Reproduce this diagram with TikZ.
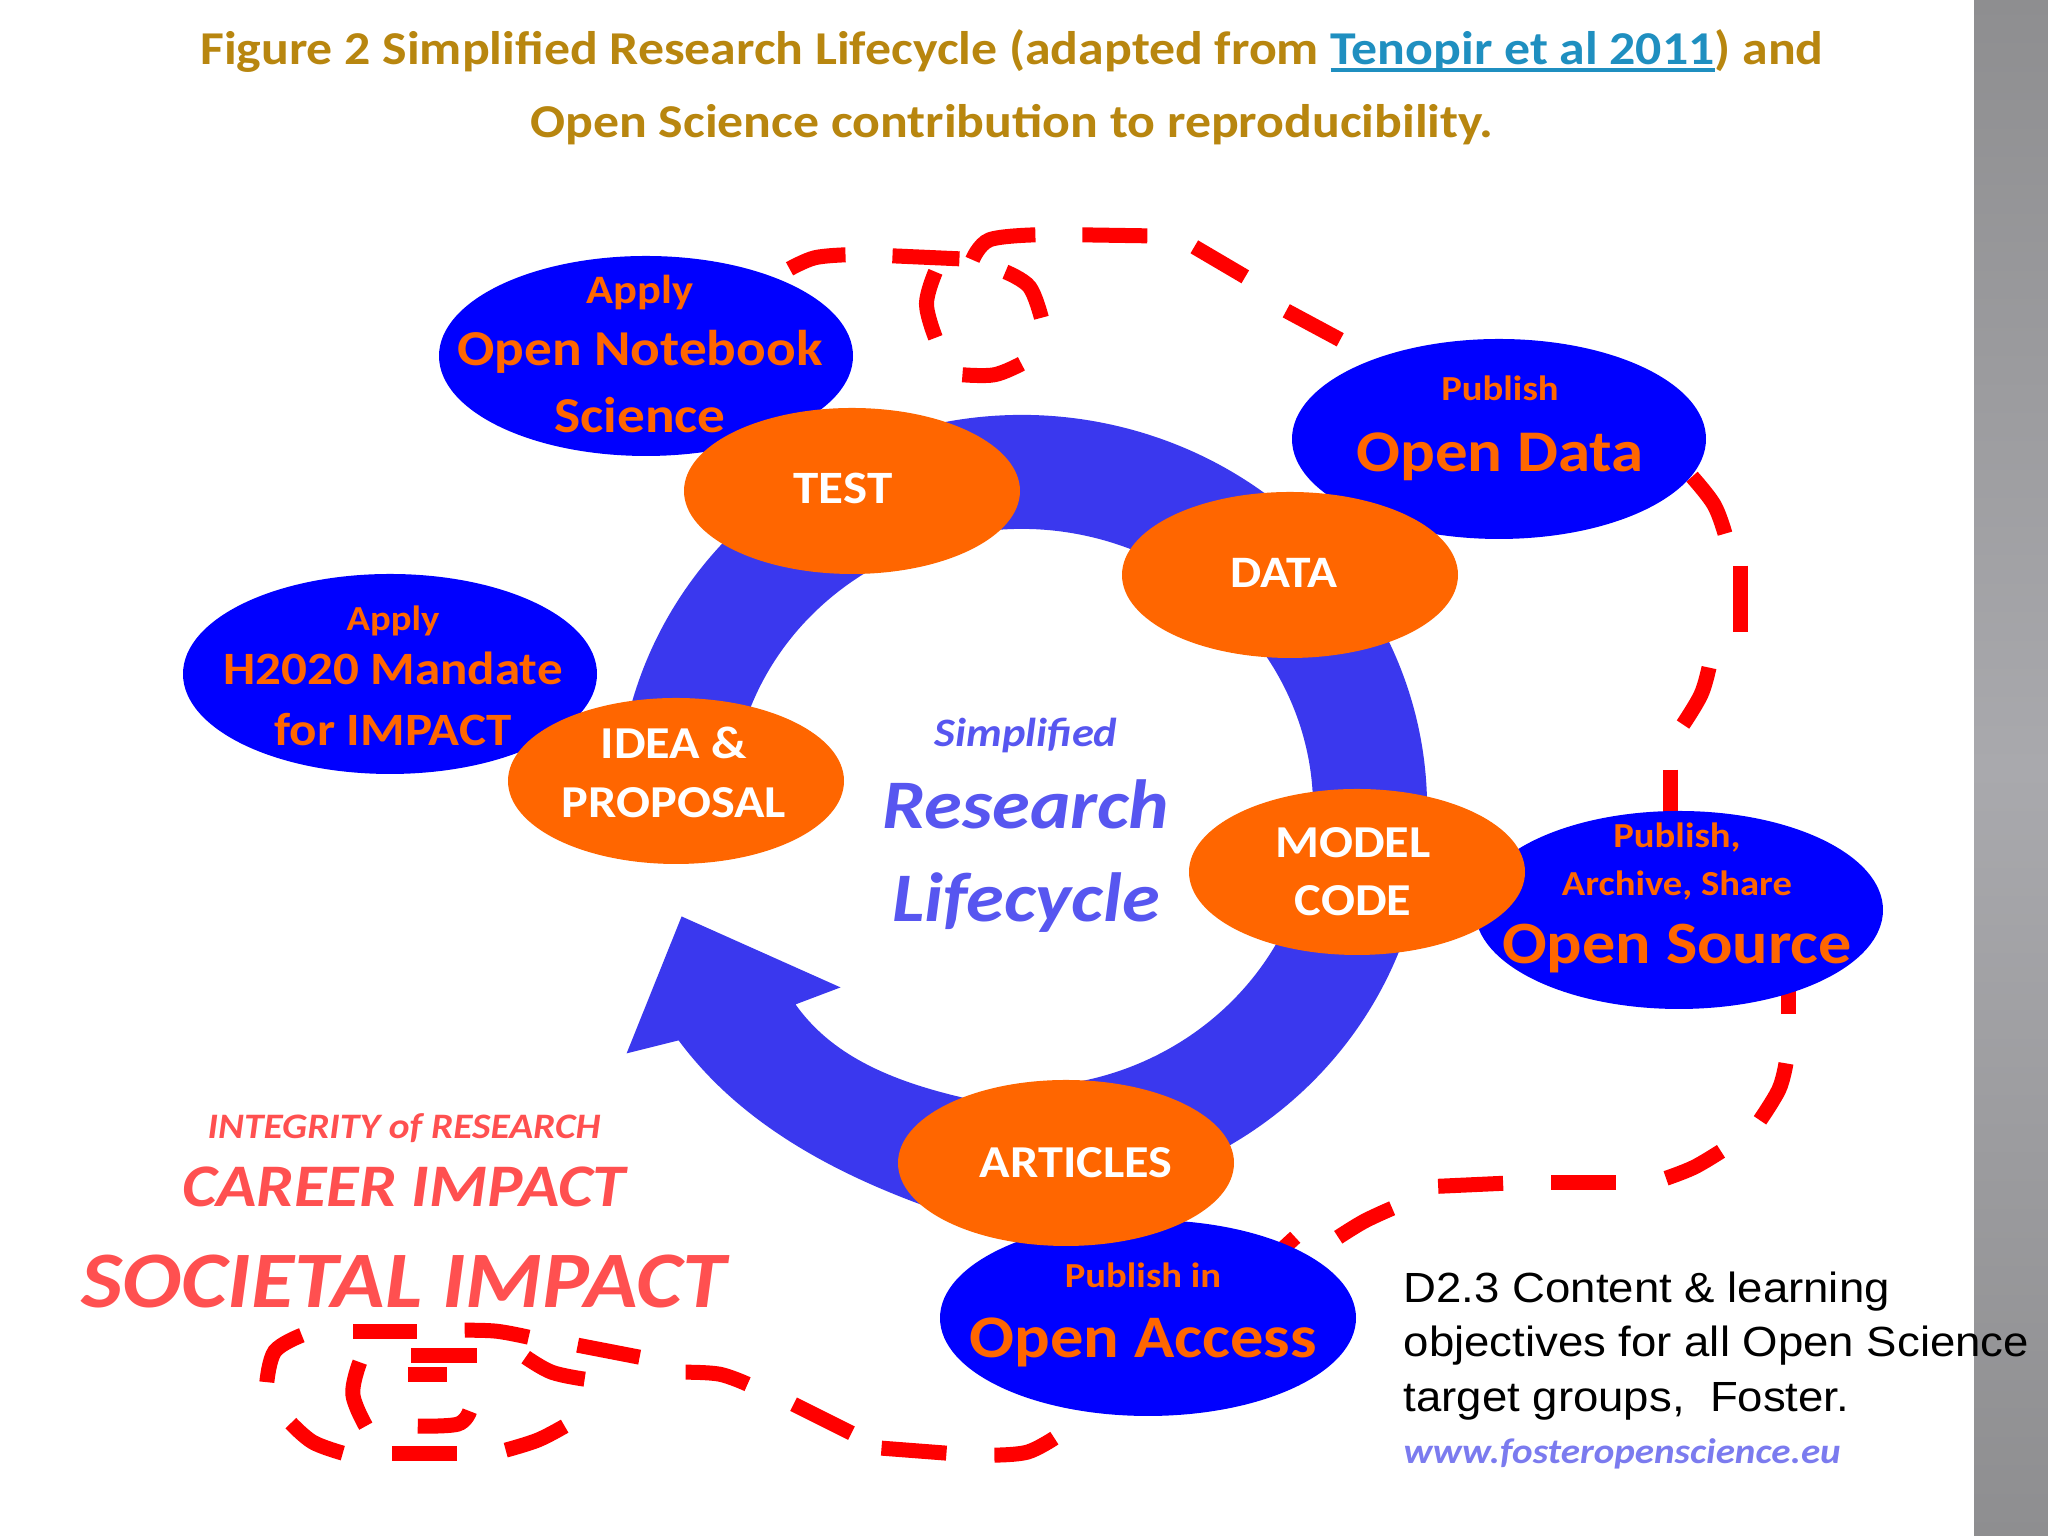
\documentclass[tikz,border=0pt]{standalone}
\usepackage{fontspec}
\setmainfont{Carlito}[FakeStretch=1.1]
\newfontfamily\arialfont{Liberation Sans}[FakeStretch=1.08]
\usepackage{xcolor}
\usetikzlibrary{positioning}
\usetikzlibrary{shapes.geometric}
\definecolor{titlegold}{HTML}{B8860F}
\definecolor{linkblue}{HTML}{1F8FC0}
\definecolor{ringblue}{HTML}{3A38EE}
\definecolor{blobblue}{HTML}{0000FF}
\definecolor{bloborange}{HTML}{FF6600}
\definecolor{impactred}{HTML}{FF5050}
\definecolor{urlblue}{HTML}{7B7BEF}
\definecolor{bandend}{HTML}{8E8E90}
\definecolor{bandmid}{HTML}{A9A9AD}
\tikzstyle{blueblob} = [draw=none, fill=blobblue, ellipse, inner sep=0pt,
	minimum width = 4.14cm,
	minimum height = 2cm]
\tikzstyle{orangeblob} = [fill=bloborange, ellipse, inner sep=0pt, text=white, align=center, font=\bfseries,
	minimum width = 3.36cm,
	minimum height = 1.66cm]
\tikzstyle{blobtxt} = [text=bloborange, align=center, inner sep=0pt, font=\bfseries]
\tikzstyle{reddash} = [draw=red, line width=0.15cm]
\newcommand{\lsize}[1]{\fontsize{#1}{12pt}\selectfont}
\newcommand{\linkul}[1]{\sbox0{#1}\rlap{\rule[-2.2pt]{\wd0}{1.1pt}}\box0}
\AtBeginDocument{\lineskiplimit=-100pt}

\begin{document}
\begin{tikzpicture}
	\useasboundingbox (0,0) rectangle (20.48,15.36);
	\fill[white] (0,0) rectangle (20.48,15.36);
	\fill[top color=bandend, bottom color=bandend, middle color=bandmid] (19.74,0) rectangle (20.48,15.36);

	% the title
	\node (title) [align=center, inner sep=0pt, text=titlegold, font=\bfseries] at (10.12,14.49)
		{\lsize{13.4}Figure 2 Simplified Research Lifecycle (adapted from {\color{linkblue}\linkul{Tenopir et al 2011}}) and\\[0.31cm]
		\lsize{13.4}Open Science contribution to reproducibility.};

	% the ring and its arrow
	\coordinate (ringc) at (10.22,7.28);
	\draw[ringblue, line width=1.14cm] ([shift={(165:3.48 and 3.36)}]ringc) arc[start angle=165, end angle=-90, x radius=3.48, y radius=3.36];

	\begin{scope}[shift={(0,15.36)}, x=0.01cm, y=-0.01cm]
		\fill[ringblue] (682,917) -- (841,988) -- (796,1005)
			.. controls (835,1060) and (900,1085) .. (980,1102) -- (980,1225)
			.. controls (850,1185) and (745,1130) .. (679,1041)
			-- (627,1054) -- cycle;
		% straight dashes
		\foreach \xa/\ya/\xb/\yb in {893/256/960/259, 1083/235/1148/236, 1741/566/1741/632, 1671/770/1671/815,
			1790/990/1790/1015, 1617/1183/1552/1183, 1504/1184/1439/1187, 1296/1238/1270/1262,
			947/1454/882/1449, 852/1434/794/1405, 640/1358/578/1346, 417/1332/353/1332,
			457/1454/392/1454, 408/1375/447/1375, 411/1356/477/1356, 1195/247/1246/277, 1287/311/1341/340}
			\draw[reddash] (\xa,\ya) -- (\xb,\yb);
		% curved dashes
		\foreach \xa/\ya/\xb/\yb/\xc/\yc in {790/269/815/258/846/255, 973/260/990/240/1036/235,
			936/272/927/304/936/338, 963/375/995/375/1022/364, 1006/272/1030/287/1042/318,
			1693/477/1715/505/1726/534, 1710/668/1702/695/1684/725, 1787/1064/1780/1090/1761/1121,
			1722/1152/1695/1168/1667/1179, 1393/1209/1365/1222/1339/1238, 1055/1439/1028/1453/995/1456,
			748/1385/720/1375/686/1373, 529/1338/497/1332/465/1331, 302/1336/275/1352/267/1383,
			291/1424/313/1443/343/1454, 506/1451/538/1441/565/1427, 470/1412/458/1425/418/1427,
			366/1427/353/1395/360/1363, 526/1358/552/1373/585/1380}
			\draw[reddash] plot[smooth, tension=0.6] coordinates {(\xa,\ya) (\xb,\yb) (\xc,\yc)};
	\end{scope}

	% blue blobs, with their text on top
	\node (notebook) [blueblob] at (6.46,11.80) {};
	\node (mandate) [blueblob] at (3.90,8.62) {};
	\node (opendata) [blueblob] at (14.99,10.97) {};
	\node (opensource) [blueblob, minimum width=4.08cm, minimum height=1.98cm] at (16.79,6.26) {};
	\node (openaccess) [blueblob, minimum width=4.16cm, minimum height=1.96cm] at (11.48,2.18) {};

	\node (notebooktxt) [blobtxt] at (6.40,11.82) {\lsize{11.5}Apply\\[0.20cm] \lsize{14.3}Open Notebook\\[0.25cm] \lsize{14.3}Science};
	\node (mandatetxt) [blobtxt] at (3.93,8.60) {\lsize{10}Apply\\[0.12cm] \lsize{13.2}H2020 Mandate\\[0.19cm] \lsize{13.2}for IMPACT};
	\node (opendatatxt) [blobtxt] at (15.00,11.08) {\lsize{10}Publish\\[0.29cm] \lsize{16.8}Open Data};
	\node (opensourcetxt) [blobtxt] at (16.77,6.38) {\lsize{10}Publish,\\[0.05cm] \lsize{10}Archive, Share\\[0.26cm] \lsize{17.1}Open Source};
	\node (openaccesstxt) [blobtxt] at (11.43,2.21) {\lsize{10}Publish in\\[0.28cm] \lsize{17.2}Open Access};

	% orange blobs on the ring
	\node (test) [orangeblob, text depth=0.05cm] at (8.52,10.45) {\lsize{13.2}\hspace*{-0.18cm}TEST};
	\node (data) [orangeblob, text depth=0.05cm] at (12.90,9.61) {\lsize{12.8}\hspace*{-0.12cm}DATA};
	\node (idea) [orangeblob, text depth=0.18cm] at (6.76,7.55) {\lsize{13}\hspace*{-0.04cm}IDEA \&\\[0.17cm] \lsize{13}\hspace*{-0.04cm}PROPOSAL};
	\node (model) [orangeblob] at (13.57,6.64) {\lsize{13}\hspace*{-0.08cm}MODEL\\[0.16cm] \lsize{13}\hspace*{-0.08cm}CODE};
	\node (articles) [orangeblob] at (10.66,3.73) {\lsize{13}\hspace*{0.20cm}ARTICLES};

	% texts
	\node (lifecycle) [align=center, inner sep=0pt, text=ringblue!85!white, font=\bfseries\itshape] at (10.26,7.11)
		{\lsize{11.5}Simplified\\[0.40cm] \lsize{19.8}Research\\[0.51cm] \lsize{19.8}Lifecycle};
	\node (impact) [align=center, inner sep=0pt, text=impactred, font=\bfseries\itshape] at (4.04,3.25)
		{\lsize{10.2}INTEGRITY of RESEARCH\\[0.26cm] \lsize{17.2}CAREER IMPACT\\[0.59cm] \lsize{22.8}SOCIETAL IMPACT};
	\node (note) [align=left, inner sep=0pt, anchor=north west, font=\arialfont] at (14.03,2.65)
		{\lsize{12}D2.3 Content \& learning\\[0.125cm] \lsize{12}objectives for all Open Science\\[0.125cm] \lsize{12}target groups,\ \ Foster.};
	\node (url) [below=0.33cm of note.south west, anchor=west, inner sep=0pt, text=urlblue, font=\bfseries\itshape] {\lsize{10.1}www.fosteropenscience.eu};
\end{tikzpicture}
\end{document}
